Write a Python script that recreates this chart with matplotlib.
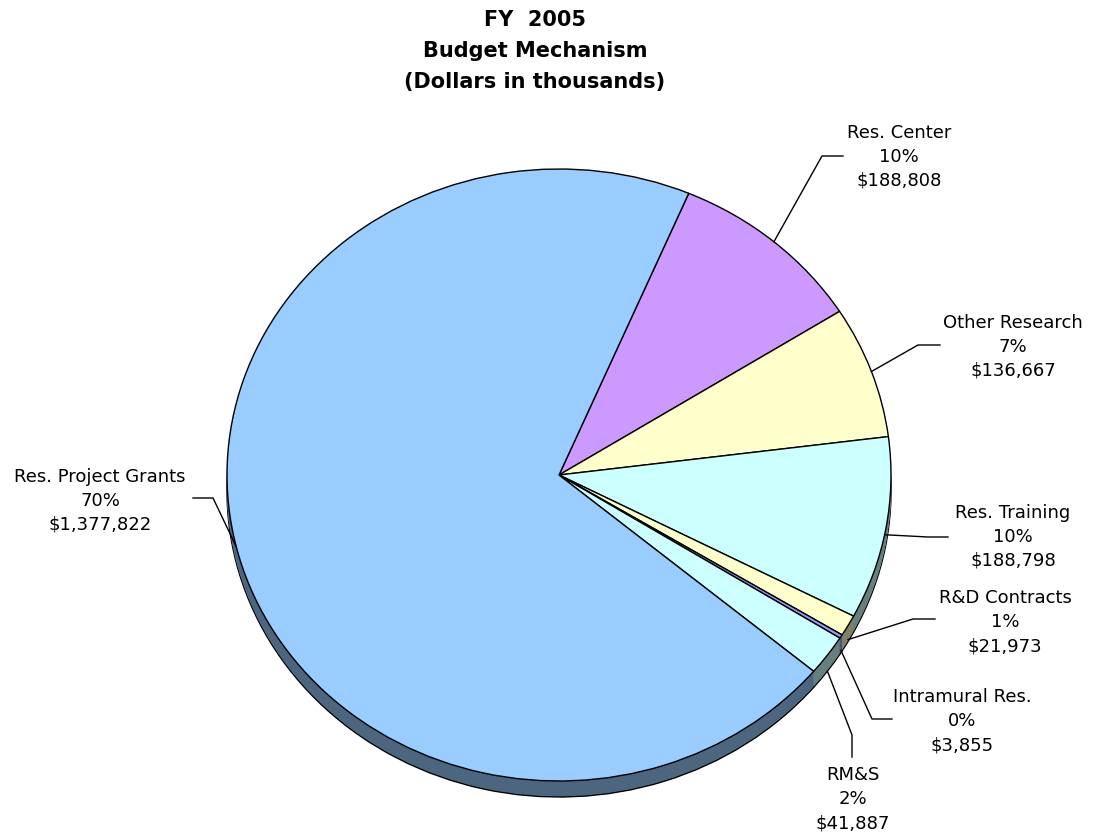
import matplotlib
matplotlib.use('Agg')
import matplotlib.pyplot as plt
import numpy as np

W, H = 1093, 838
CX, CY = 559, 475      # pie centre in pixels
RX, RY = 332, 306      # ellipse radii in pixels
DEPTH = 16             # 3d wall height in pixels
START = 67

labels = ["Res. Center", "Other Research", "Res. Training", "R&D Contracts",
          "Intramural Res.", "RM&S", "Res. Project Grants"]
values = [188808, 136667, 188798, 21973, 3855, 41887, 1377822]
colors = ['#CC99FF', '#FFFFCC', '#CCFFFF', '#FFFFCC', '#9999FF', '#CCFFFF', '#99CCFF']

# label layout: text centre x, first line y, elbow, end of leader, drop onto wall
layout = {
    "Res. Center":         (899, 133, (822, 156), (843, 156), 0),
    "Other Research":      (1013, 323, (918, 345), (940, 345), 0),
    "Res. Training":       (1013, 513, (928, 537), (948, 537), 6),
    "R&D Contracts":       (1005, 598, (913, 619), (935, 619), 14),
    "Intramural Res.":     (962, 697, (872, 719), (892, 719), 14),
    "RM&S":                (853, 775, (852, 735), (852, 757), 16),
    "Res. Project Grants": (100, 477, (213, 498), (193, 498), 0),
}


def px2d(x, y):
    return (x - CX) / RX, (CY - y) / RY


def darker(c, f=0.5):
    r, g, b = matplotlib.colors.to_rgb(c)
    return (r * f, g * f, b * f)


fig = plt.figure(figsize=(W / 100, H / 100), dpi=100)
fig.patch.set_facecolor('white')
ax = fig.add_axes([0, 0, 1, 1])
ax.axis('off')

side = [darker(c) for c in colors]
dz = DEPTH / RY

# wall: deepest copy with outline, then fill in between
ax.pie(values, colors=side, startangle=START, counterclock=False,
       center=(0, -dz), radius=1,
       wedgeprops=dict(edgecolor='black', linewidth=1.0))
for k in range(DEPTH - 1, 0, -1):
    ax.pie(values, colors=side, startangle=START, counterclock=False,
           center=(0, -k / RY), radius=1,
           wedgeprops=dict(edgecolor='none', linewidth=0))

# top face
wedges, _ = ax.pie(values, colors=colors, startangle=START, counterclock=False,
                   center=(0, 0), radius=1,
                   wedgeprops=dict(edgecolor='black', linewidth=1.0))

ax.set_aspect('auto')
ax.set_xlim(-CX / RX, (W - CX) / RX)
ax.set_ylim((CY - H) / RY, CY / RY)

total = sum(values)
for w, lab, val in zip(wedges, labels, values):
    tx, ty, elbow, end, drop = layout[lab]
    mid = np.deg2rad((w.theta1 + w.theta2) / 2)
    sx, sy = np.cos(mid), np.sin(mid) - drop / RY
    ex, ey = px2d(*elbow)
    fx, fy = px2d(*end)
    ax.plot([sx, ex, fx], [sy, ey, fy], color='black', linewidth=1.0, zorder=5)
    pct = f"{round(100 * val / total)}%"
    for i, line in enumerate([lab, pct, f"${val:,}"]):
        fig.text(tx / W, 1 - (ty + 24 * i) / H, line, ha='center', va='center',
                 fontsize=13, family='DejaVu Sans', color='black')

for i, line in enumerate(["FY  2005", "Budget Mechanism", "(Dollars in thousands)"]):
    fig.text(535 / W, 1 - (20 + 31 * i) / H, line, ha='center', va='center',
             fontsize=15, fontweight='bold', family='DejaVu Sans', color='black')

plt.savefig("out.png", dpi=100, facecolor=fig.get_facecolor())
plt.close()
